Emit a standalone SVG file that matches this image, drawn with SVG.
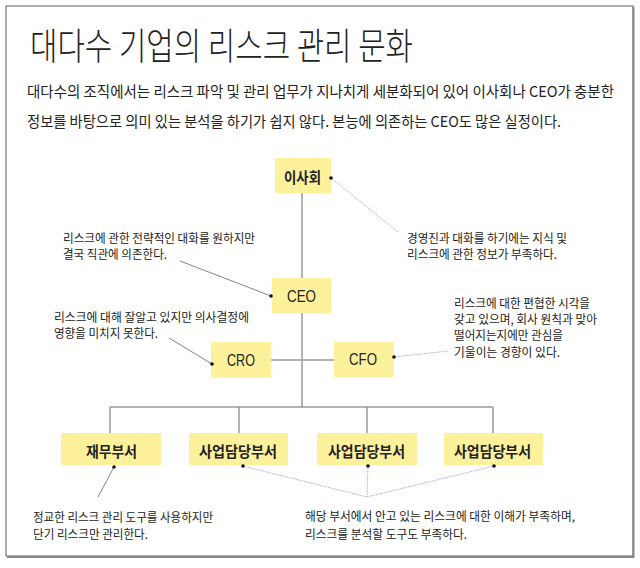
<svg xmlns="http://www.w3.org/2000/svg" width="640" height="568" viewBox="0 0 640 568">
<style>
.t{font-family:"Noto Sans CJK KR","Noto Sans CJK SC",sans-serif;fill:#222;dominant-baseline:central}
.title{font-size:37px;font-weight:300}
.para{font-size:15px}
.ann{font-size:12px}
.lab{font-size:15px;font-weight:700;text-anchor:middle}
.lat{font-family:"Liberation Sans",sans-serif;font-size:17px;text-anchor:middle;fill:#222;dominant-baseline:central}
.box{fill:#FDF19C}
.conn{stroke:#9a9a9a;stroke-width:1.5;fill:none}
.lead{stroke:#666;stroke-width:0.8;fill:none}
.leadl{stroke:#aaa;stroke-width:0.9;fill:none;stroke-dasharray:1.5 1}
.dot{fill:#111}
</style>
<rect width="640" height="568" fill="#fff"/>
<g id="frame">
<rect x="6" y="6" width="627" height="550" fill="none" stroke="#777" stroke-width="1.2"/>
<path d="M633.5 7 V557 H7" fill="none" stroke="#888" stroke-width="2"/>
</g>
<g id="header">
<text class="t title" x="30" y="44" textLength="383" lengthAdjust="spacingAndGlyphs">대다수 기업의 리스크 관리 문화</text>
<text class="t para" x="27" y="90" textLength="587" lengthAdjust="spacingAndGlyphs">대다수의 조직에서는 리스크 파악 및 관리 업무가 지나치게 세분화되어 있어 이사회나 CEO가 충분한</text>
<text class="t para" x="27" y="120" textLength="534" lengthAdjust="spacingAndGlyphs">정보를 바탕으로 의미 있는 분석을 하기가 쉽지 않다. 본능에 의존하는 CEO도 많은 실정이다.</text>
</g>
<g id="connectors">
<line class="conn" x1="302" y1="193" x2="302" y2="278"/>
<line class="conn" x1="302" y1="313" x2="302" y2="407"/>
<line class="conn" x1="271" y1="360" x2="334" y2="360"/>
<line class="conn" x1="110" y1="407" x2="493" y2="407"/>
<line class="conn" x1="110" y1="407" x2="110" y2="433"/>
<line class="conn" x1="239" y1="407" x2="239" y2="433"/>
<line class="conn" x1="367" y1="407" x2="367" y2="433"/>
<line class="conn" x1="493" y1="407" x2="493" y2="433"/>
</g>
<g id="leaders">
<line class="leadl" x1="331" y1="178" x2="398" y2="232"/>
<line class="lead" x1="180" y1="261" x2="271" y2="296"/>
<line class="lead" x1="169" y1="338" x2="212" y2="364"/>
<line class="leadl" x1="394" y1="357" x2="448" y2="351"/>
<line class="lead" x1="114" y1="467" x2="98" y2="497"/>
<line class="leadl" x1="243" y1="466" x2="367" y2="497"/>
<line class="leadl" x1="368" y1="466" x2="367" y2="497"/>
<line class="leadl" x1="494" y1="466" x2="367" y2="497"/>
</g>
<g id="node-board">
<rect class="box" x="275" y="158" width="56" height="35"/>
<text class="t lab" x="302.5" y="176" textLength="37" lengthAdjust="spacingAndGlyphs">이사회</text>
<circle class="dot" cx="331" cy="178" r="1.8"/>
</g>
<g id="node-ceo">
<rect class="box" x="272" y="278" width="59" height="35"/>
<text class="lat" x="301.5" y="296" textLength="29" lengthAdjust="spacingAndGlyphs">CEO</text>
<circle class="dot" cx="271" cy="296" r="1.8"/>
</g>
<g id="node-cro">
<rect class="box" x="211" y="342" width="60" height="36"/>
<text class="lat" x="241" y="360" textLength="28" lengthAdjust="spacingAndGlyphs">CRO</text>
<circle class="dot" cx="212" cy="364" r="1.8"/>
</g>
<g id="node-cfo">
<rect class="box" x="334" y="342" width="60" height="35"/>
<text class="lat" x="363" y="359.5" textLength="28" lengthAdjust="spacingAndGlyphs">CFO</text>
<circle class="dot" cx="394" cy="357" r="1.8"/>
</g>
<g id="node-finance">
<rect class="box" x="61" y="433" width="100" height="32"/>
<text class="t lab" x="111.5" y="450" textLength="51" lengthAdjust="spacingAndGlyphs">재무부서</text>
<circle class="dot" cx="114" cy="467" r="1.8"/>
</g>
<g id="node-biz1">
<rect class="box" x="189" y="433" width="99" height="32"/>
<text class="t lab" x="238" y="450" textLength="78" lengthAdjust="spacingAndGlyphs">사업담당부서</text>
<circle class="dot" cx="243" cy="466" r="1.8"/>
</g>
<g id="node-biz2">
<rect class="box" x="317" y="433" width="100" height="32"/>
<text class="t lab" x="366.5" y="450" textLength="77" lengthAdjust="spacingAndGlyphs">사업담당부서</text>
<circle class="dot" cx="368" cy="466" r="1.8"/>
</g>
<g id="node-biz3">
<rect class="box" x="444" y="433" width="99" height="32"/>
<text class="t lab" x="492.5" y="450" textLength="77" lengthAdjust="spacingAndGlyphs">사업담당부서</text>
<circle class="dot" cx="494" cy="466" r="1.8"/>
</g>
<g id="annotations">
<text class="t ann" x="407" y="237" textLength="160" lengthAdjust="spacingAndGlyphs">경영진과 대화를 하기에는 지식 및</text>
<text class="t ann" x="407" y="253" textLength="150" lengthAdjust="spacingAndGlyphs">리스크에 관한 정보가 부족하다.</text>
<text class="t ann" x="63" y="237" textLength="192" lengthAdjust="spacingAndGlyphs">리스크에 관한 전략적인 대화를 원하지만</text>
<text class="t ann" x="63" y="253" textLength="104" lengthAdjust="spacingAndGlyphs">결국 직관에 의존한다.</text>
<text class="t ann" x="54" y="316" textLength="195" lengthAdjust="spacingAndGlyphs">리스크에 대해 잘알고 있지만 의사결정에</text>
<text class="t ann" x="54" y="332" textLength="104" lengthAdjust="spacingAndGlyphs">영향을 미치지 못한다.</text>
<text class="t ann" x="454" y="302" textLength="136" lengthAdjust="spacingAndGlyphs">리스크에 대한 편협한 시각을</text>
<text class="t ann" x="454" y="318.3" textLength="143" lengthAdjust="spacingAndGlyphs">갖고 있으며, 회사 원칙과 맞아</text>
<text class="t ann" x="454" y="334.6" textLength="109" lengthAdjust="spacingAndGlyphs">떨어지는지에만 관심을</text>
<text class="t ann" x="454" y="351" textLength="106" lengthAdjust="spacingAndGlyphs">기울이는 경향이 있다.</text>
<text class="t ann" x="33" y="516" textLength="180" lengthAdjust="spacingAndGlyphs">정교한 리스크 관리 도구를 사용하지만</text>
<text class="t ann" x="33" y="533" textLength="115" lengthAdjust="spacingAndGlyphs">단기 리스크만 관리한다.</text>
<text class="t ann" x="305" y="515" textLength="270" lengthAdjust="spacingAndGlyphs">해당 부서에서 안고 있는 리스크에 대한 이해가 부족하며,</text>
<text class="t ann" x="305" y="533" textLength="162" lengthAdjust="spacingAndGlyphs">리스크를 분석할 도구도 부족하다.</text>
</g>
</svg>
